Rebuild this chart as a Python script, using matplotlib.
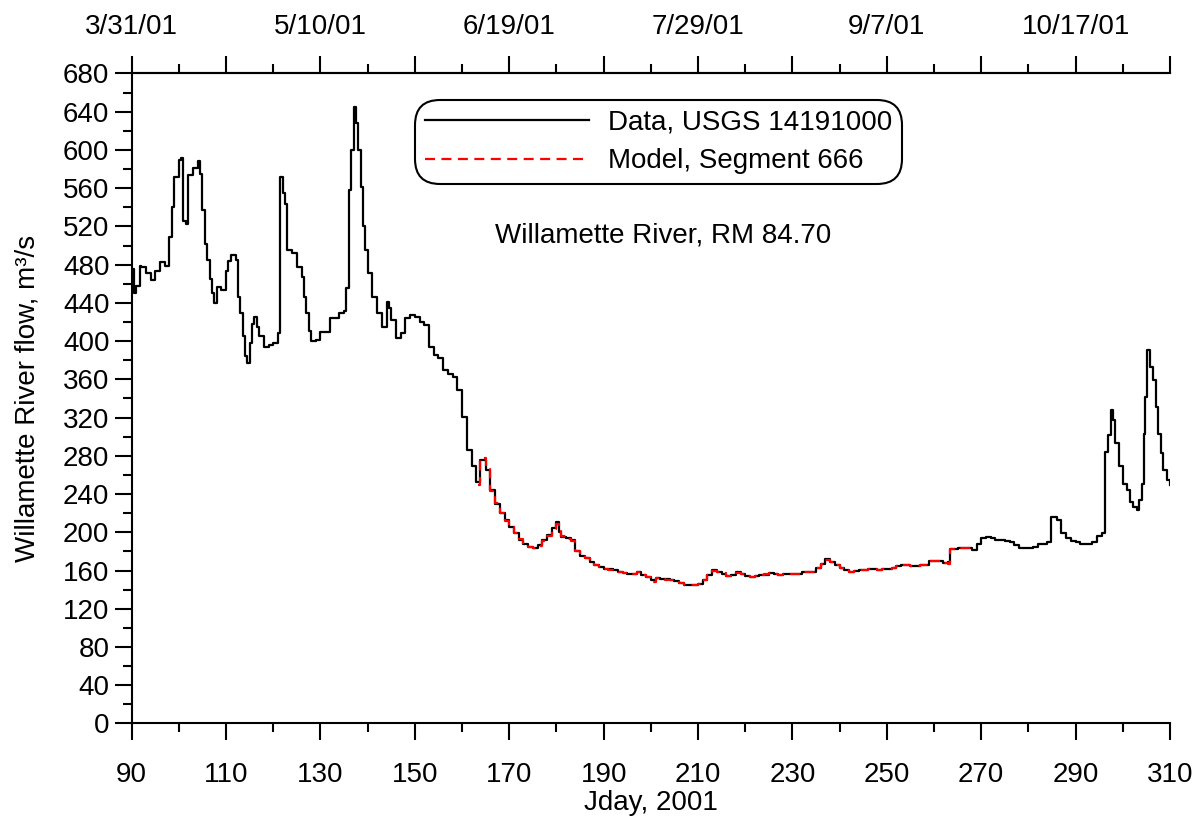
import matplotlib
matplotlib.use("Agg")
import matplotlib.pyplot as plt
from matplotlib.ticker import FixedLocator

plt.rcParams['font.family'] = ['Liberation Sans', 'DejaVu Sans']

# ---------------- data ----------------
data_day = [
    90, 90.5, 91, 91.7, 92, 93, 94, 95, 96, 97,
    98, 98.5, 99, 100, 100.5, 100.9, 101.5, 101.9, 103, 104,
    104.5, 105, 105.5, 106, 106.5, 107, 107.5, 108, 109, 110,
    110.5, 111, 112, 112.5, 113, 113.5, 114, 114.5, 115, 115.5,
    116, 116.5, 117, 118, 119, 120, 121, 121.4, 122, 122.5,
    123, 124, 125, 126, 126.5, 127, 127.5, 128, 129, 130,
    131, 132, 133, 134, 135, 135.5, 136, 136.5, 137, 137.5,
    138, 138.5, 139, 139.5, 140, 141, 142, 143, 144, 144.5,
    145, 146, 147, 148, 149, 150, 151, 152, 153, 154,
    155, 156, 157, 158, 159, 160, 161, 162, 163, 163.8,
    165, 166, 167, 168, 169, 170, 171, 172, 173, 174,
    175, 176, 177, 178, 179, 180, 180.5, 181, 182, 183,
    184, 185, 186, 187, 188, 189, 190, 191, 192, 193,
    194, 195, 196, 197, 198, 199, 200, 201, 202, 203,
    204, 205, 206, 207, 208, 209, 210, 211, 212, 213,
    214, 215, 216, 217, 218, 219, 220, 221, 222, 223,
    224, 225, 226, 227, 228, 229, 230, 231, 232, 233,
    234, 235, 236, 237, 238, 239, 240, 241, 242, 243,
    244, 245, 246, 247, 248, 249, 250, 251, 252, 253,
    254, 255, 256, 257, 258, 259, 260, 261, 262, 263,
    263.3, 264, 265, 266, 267, 268, 269, 270, 271, 272,
    273, 274, 275, 276, 277, 278, 279, 280, 281, 282,
    283, 284, 284.7, 285, 286, 287, 288, 289, 290, 291,
    292, 293, 293.4, 294.5, 295.5, 296.2, 296.9, 297.4, 298, 298.4,
    299.1, 300.1, 300.8, 301.5, 302.2, 302.9, 303.5, 304, 304.4, 304.8,
    305.2, 305.8, 306.3, 307, 307.5, 308, 308.6, 309.3, 310,
]
data_flow = [
    475, 450, 458, 479, 478, 471, 464, 473, 483, 479,
    509, 540, 572, 589, 592, 526, 523, 574, 581, 588,
    575, 537, 502, 485, 465, 450, 440, 457, 453, 473,
    484, 490, 485, 446, 429, 405, 384, 377, 398, 418,
    425, 415, 405, 394, 396, 398, 408, 572, 555, 543,
    495, 492, 478, 467, 446, 429, 411, 400, 401, 410,
    410, 424, 424, 429, 432, 456, 558, 600, 645, 628,
    600, 561, 520, 495, 471, 446, 429, 415, 441, 435,
    422, 403, 408, 424, 427, 425, 420, 417, 394, 385,
    382, 370, 366, 363, 349, 321, 286, 269, 253, 276,
    265, 244, 230, 220, 213, 206, 199, 192, 188, 185,
    184, 187, 192, 197, 204, 211, 200, 195, 194, 192,
    180, 175, 173, 169, 166, 164, 162, 162, 161, 159,
    157, 156, 156, 159, 155, 153, 150, 152, 151, 151,
    150, 149, 147, 145, 145, 145, 146, 150, 155, 161,
    159, 156, 154, 155, 158, 156, 154, 153, 154, 155,
    155, 157, 156, 155, 156, 156, 156, 156, 158, 158,
    159, 163, 167, 172, 169, 166, 163, 161, 158, 160,
    161, 161, 162, 162, 161, 162, 162, 163, 165, 166,
    166, 165, 165, 166, 166, 170, 170, 170, 168, 169,
    183, 183, 184, 184, 184, 182, 188, 194, 195, 194,
    192, 192, 191, 190, 187, 184, 184, 184, 185, 188,
    188, 190, 216, 216, 213, 199, 194, 191, 190, 188,
    188, 188, 190, 196, 199, 284, 302, 328, 317, 293,
    269, 251, 244, 232, 227, 223, 234, 251, 303, 342,
    391, 373, 359, 331, 303, 283, 265, 255, 249,
]

model_day = [
    163.4, 163.8, 165, 166, 167, 168, 169, 170, 171, 172,
    173, 174, 175, 176, 177, 178, 179, 180, 180.5, 181,
    182, 183, 184, 185, 186, 187, 188, 189, 190, 191,
    192, 193, 194, 195, 196, 197, 198, 199, 200, 201,
    202, 203, 204, 205, 206, 207, 208, 209, 210, 211,
    212, 213, 214, 215, 216, 217, 218, 219, 220, 221,
    222, 223, 224, 225, 226, 227, 228, 229, 230, 231,
    232, 233, 234, 235, 236, 237, 238, 239, 240, 241,
    242, 243, 244, 245, 246, 247, 248, 249, 250, 251,
    252, 253, 254, 255, 256, 257, 258, 259, 260, 261,
    262, 263, 263.3, 264, 265, 266, 267, 268,
]
model_flow = [
    250, 278, 266, 243, 231, 220, 212, 206, 199, 193,
    188, 185, 184, 186, 191, 196, 203, 209, 201, 196,
    193, 191, 180, 176, 173, 169, 166, 164, 162, 161,
    160, 159, 157, 156, 156, 158, 155, 153, 148, 152,
    151, 150, 150, 149, 147, 145, 145, 145, 146, 150,
    155, 160, 159, 157, 154, 155, 157, 156, 154, 153,
    154, 155, 156, 157, 156, 155, 156, 156, 156, 156,
    158, 158, 159, 163, 167, 171, 169, 166, 163, 161,
    158, 160, 161, 161, 162, 162, 161, 162, 162, 163,
    165, 166, 166, 165, 165, 166, 166, 170, 170, 170,
    168, 167, 183, 183, 184, 184, 184, 182,
]

bottom_ticks = list(range(90, 311, 20))
top_label_days = [90, 130, 170, 210, 250, 290]
top_labels = ['3/31/01', '5/10/01', '6/19/01', '7/29/01', '9/7/01', '10/17/01']
y_ticks = list(range(0, 681, 40))

series_labels = ['Data, USGS 14191000', 'Model, Segment 666']
annotation = 'Willamette River, RM 84.70'
xlabel = 'Jday, 2001'
ylabel = 'Willamette River flow, m³/s'

# ---------------- figure ----------------
FS = 20
fig = plt.figure(figsize=(12.03, 8.23), dpi=100)
ax = fig.add_axes([0.10948, 0.1209, 0.8631, 0.7898])

ax.plot(data_day, data_flow, color='black', lw=1.6, drawstyle='steps-post',
        label=series_labels[0], zorder=3)
ax.plot(model_day, model_flow, color='red', lw=1.6, drawstyle='steps-post',
        linestyle=(0, (4.5, 2.9)), label=series_labels[1], zorder=4)

ax.set_xlim(90, 310)
ax.set_ylim(0, 680)

for s in ['left', 'bottom', 'top']:
    ax.spines[s].set_linewidth(1.5)
ax.spines['right'].set_visible(False)

ax.xaxis.set_major_locator(FixedLocator(bottom_ticks))
ax.xaxis.set_minor_locator(FixedLocator([t + 10 for t in bottom_ticks[:-1]]))
ax.yaxis.set_major_locator(FixedLocator(y_ticks))
ax.yaxis.set_minor_locator(FixedLocator([t + 20 for t in y_ticks[:-1]]))

ax.tick_params(axis='both', which='major', direction='out', length=12, width=1.5,
               labelsize=FS)
ax.tick_params(axis='both', which='minor', direction='out', length=6.5, width=1.5)
ax.tick_params(axis='x', which='major', pad=16)
ax.tick_params(axis='y', which='major', pad=4)
ax.tick_params(right=False, which='both')

sec = ax.secondary_xaxis('top')
sec.spines['top'].set_linewidth(1.5)
sec.xaxis.set_major_locator(FixedLocator(bottom_ticks))
sec.xaxis.set_minor_locator(FixedLocator([t + 10 for t in bottom_ticks[:-1]]))
sec.set_xticklabels([top_labels[top_label_days.index(t)] if t in top_label_days else ''
                     for t in bottom_ticks])
sec.tick_params(which='major', direction='out', length=12, width=1.5, labelsize=FS, pad=12)
sec.tick_params(which='minor', direction='out', length=6.5, width=1.5)

ax.set_xlabel(xlabel, fontsize=FS, labelpad=1)
ax.set_ylabel(ylabel, fontsize=FS, labelpad=16)

ax.text(202.6, 511, annotation, ha='center', va='center', fontsize=FS)

leg = ax.legend(loc='upper left', bbox_to_anchor=(415 / 1203, 1 - 100 / 823),
                bbox_transform=fig.transFigure, fontsize=FS, borderaxespad=0,
                borderpad=0.35, labelspacing=0.45, handlelength=5.9,
                handletextpad=0.7, frameon=True, fancybox=True)
frame = leg.get_frame()
frame.set_edgecolor('black')
frame.set_linewidth(1.5)
frame.set_alpha(1)
frame.set_boxstyle('round', pad=0, rounding_size=0.9)

fig.savefig('out.png', dpi=100)
